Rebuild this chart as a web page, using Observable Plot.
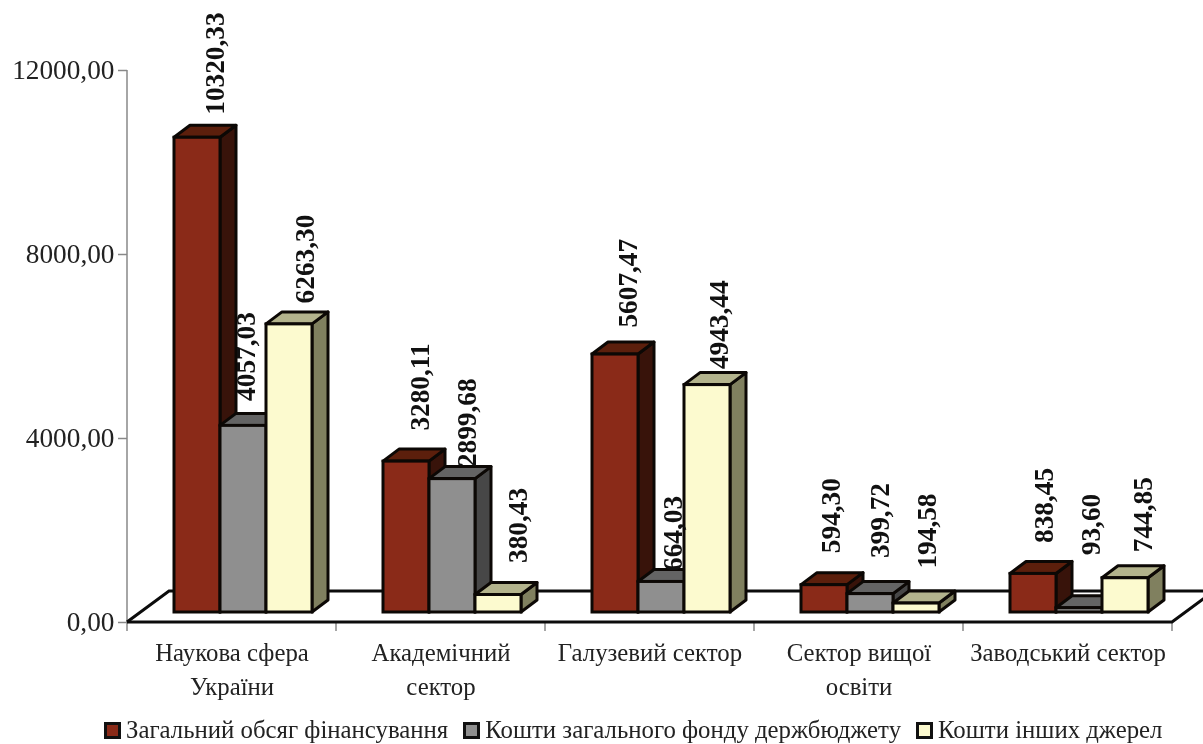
<!DOCTYPE html>
<html lang="uk">
<head>
<meta charset="utf-8">
<script src="https://cdn.jsdelivr.net/npm/d3@7"></script>
<script src="https://cdn.jsdelivr.net/npm/@observablehq/plot@0.6"></script>
<style>
html,body{margin:0;padding:0;background:#fff;overflow:hidden;}
svg{display:block;overflow:visible;}
#chart,#legend{filter:blur(0.45px);}
#legend{position:relative;top:3px;display:flex;align-items:center;padding-left:104px;height:34px;font:24.8px 'Liberation Serif',serif;color:#222;white-space:nowrap;}
#legend i{display:inline-block;box-sizing:border-box;width:17px;height:17px;border:3px solid #111;margin-right:5px;}
#legend span{display:flex;align-items:center;margin-right:15px;}
</style>
</head>
<body>
<div id="chart"></div>
<div id="legend"></div>
<script>
const categories = ["Наукова сфера\nУкраїни", "Академічний\nсектор", "Галузевий сектор", "Сектор вищої\nосвіти", "Заводський сектор"];
const seriesNames = ["Загальний обсяг фінансування", "Кошти загального фонду держбюджету", "Кошти інших джерел"];
const totalValues = [10320.33, 3280.11, 5607.47, 594.30, 838.45];
const budgetValues = [4057.03, 2899.68, 664.03, 399.72, 93.60];
const otherValues = [6263.30, 380.43, 4943.44, 194.58, 744.85];
const yTicks = [0, 4000, 8000, 12000];

// styling, kept apart from the values
const frontColors = ["#8a2a18", "#8f8f8f", "#fcfacf"];
const topColors = ["#5c1f0c", "#646464", "#b3b38c"];
const sideColors = ["#38130a", "#474747", "#80805f"];
const serif = "'Liberation Serif', serif";
const depthX = 16, depthY = 12, lift = 10;
// label nudges per series, per category, in pixels [along x, above bar]
const labelNudges = [
  [[17.5,23],[13.5,31],[12.5,27],[6.5,32],[10.5,31]],
  [[2.5,25],[14.5,12],[11.5,11],[9.5,36],[11.5,53]],
  [[15.5,21],[19.5,32],[12,16],[10.5,35],[17.5,26]]
];

const valueLists = [totalValues, budgetValues, otherValues];
const rows = seriesNames.flatMap((s, si) => categories.map((c, ci) => ({
  category: c, series: s, seriesIndex: si, value: valueLists[si][ci], nudge: labelNudges[si][ci]
})));
const comma = v => d3.format(".2f")(v).replace(".", ",");

const svgEl = (name, attrs) => {
  const el = document.createElementNS("http://www.w3.org/2000/svg", name);
  for (const k in attrs) el.setAttribute(k, attrs[k]);
  return el;
};

// side and top faces of every bar, painted behind its front
function boxFaces(index, scales, values, dimensions, context, next) {
  const g = next(index, scales, values, dimensions, context);
  [...g.querySelectorAll("rect")].forEach((rect, i) => {
    const r = rows[index[i]];
    const x = +rect.getAttribute("x"), y = +rect.getAttribute("y");
    const w = +rect.getAttribute("width"), h = +rect.getAttribute("height");
    const face = (pts, fill) => svgEl("polygon", {points: pts.map(p => p.join(",")).join(" "), fill, stroke: "#0c0805", "stroke-width": 3, "stroke-linejoin": "round"});
    rect.parentNode.insertBefore(face([[x+w,y],[x+w+depthX,y-depthY],[x+w+depthX,y+h-depthY],[x+w,y+h]], sideColors[r.seriesIndex]), rect);
    rect.parentNode.insertBefore(face([[x,y],[x+depthX,y-depthY],[x+w+depthX,y-depthY],[x+w,y]], topColors[r.seriesIndex]), rect);
  });
  return g;
}

// value axis line, floor of the 3D box and the boundary ticks of the category axis
function floor(index, {fx, y}, values, dimensions) {
  const g = svgEl("g", {});
  const y0 = y(0), left = dimensions.marginLeft, right = dimensions.width - dimensions.marginRight;
  const backY = y0 - 31, backX = left + 42;
  const edges = categories.map(c => fx(c)).concat([right]);
  g.append(svgEl("line", {x1: left, x2: left, y1: y(yTicks[yTicks.length - 1]), y2: y0, stroke: "#888", "stroke-width": 1.5}));
  for (const e of edges) g.append(svgEl("line", {x1: e, x2: e, y1: y0, y2: y0 + 9, stroke: "#888", "stroke-width": 1.5}));
  g.append(svgEl("polyline", {points: `${left},${y0} ${backX},${backY} ${dimensions.width + 10},${backY}`, fill: "none", stroke: "#0c0c0c", "stroke-width": 3}));
  g.append(svgEl("polyline", {points: `${left},${y0} ${right},${y0} ${right + 42},${backY}`, fill: "none", stroke: "#0c0c0c", "stroke-width": 3}));
  return g;
}

const chart = Plot.plot({
  width: 1203,
  height: 710,
  marginLeft: 126,
  marginRight: 30,
  marginTop: 70,
  marginBottom: 88,
  style: {fontFamily: serif, background: "#fff"},
  fx: {domain: categories, padding: 0, label: null},
  x: {domain: seriesNames, axis: null, paddingInner: 0, paddingOuter: 0.728, align: 0.66},
  y: {domain: [0, 12000], label: null},
  color: {domain: seriesNames, range: frontColors},
  marks: [
    Plot.frame({facet: "super", stroke: "none", render: (i, s, v, d) => floor(i, s, v, d)}),
    Plot.axisY({ticks: yTicks, tickFormat: comma, tickSize: 9, tickPadding: 4, label: null, fontSize: 27.3, stroke: "#888", fill: "#222", strokeWidth: 1.5}),
    Plot.axisFx({anchor: "bottom", tickSize: 0, tickPadding: 14, fontSize: 24.8, label: null, lineHeight: 1.37, fill: "#222"}),
    Plot.barY(rows, {fx: "category", x: "series", y: "value", fill: "series", stroke: "#0c0805", strokeWidth: 3, dy: -lift, render: boxFaces}),
    ...rows.map(r => Plot.text([r], {
      fx: "category", x: "series", y: "value", text: d => comma(d.value),
      rotate: -90, textAnchor: "start", lineAnchor: "middle",
      dx: r.nudge[0], dy: -(r.nudge[1] + lift), fontSize: 27.3, fontWeight: "bold", fill: "#111"
    }))
  ]
});
document.getElementById("chart").append(chart);

const legend = d3.select("#legend");
seriesNames.forEach((s, i) => {
  const item = legend.append("span");
  item.append("i").style("background", frontColors[i]);
  item.append("b").style("font-weight", "normal").text(s);
});
</script>
</body>
</html>
